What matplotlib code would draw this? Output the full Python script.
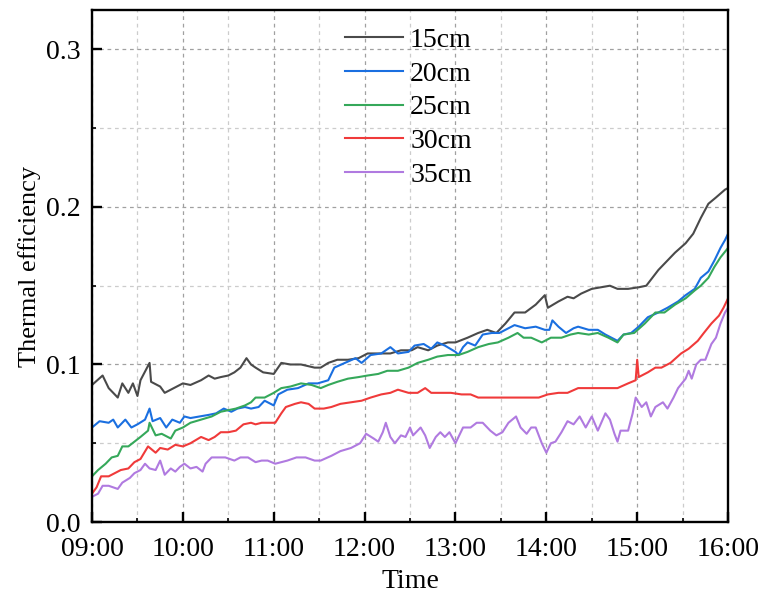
import matplotlib
matplotlib.use("Agg")
import matplotlib.pyplot as plt
from matplotlib.ticker import MultipleLocator, FuncFormatter
import numpy as np

plt.rcParams['font.family'] = ['Liberation Serif', 'DejaVu Serif']

# minutes after 09:00 and thermal efficiency
t15 = [0, 7, 11, 17, 20, 24, 27, 30, 32, 38, 39, 45, 48, 52, 60, 65, 72, 77, 81, 85,
       90, 94, 98, 102, 105, 108, 113, 120, 125, 131, 138, 147, 151, 156, 162, 169, 176,
       182, 191, 197, 204, 211, 215, 222, 228, 235, 240, 248, 255, 261, 267, 273, 279,
       286, 293, 296, 299, 301, 308, 314, 318, 323, 330, 336, 342, 347, 354, 361, 366,
       370, 374, 379, 385, 392, 397, 402, 407, 412, 418, 420]
e15 = [0.087, 0.093, 0.085, 0.079, 0.088, 0.082, 0.088, 0.080, 0.090, 0.101, 0.089, 0.086,
       0.082, 0.084, 0.088, 0.087, 0.090, 0.093, 0.091, 0.092, 0.093, 0.095, 0.098, 0.104,
       0.100, 0.098, 0.095, 0.094, 0.101, 0.100, 0.100, 0.098, 0.098, 0.101, 0.103, 0.103,
       0.104, 0.107, 0.107, 0.107, 0.109, 0.109, 0.111, 0.109, 0.112, 0.114, 0.114, 0.117,
       0.120, 0.122, 0.120, 0.126, 0.133, 0.133, 0.138, 0.141, 0.144, 0.136, 0.140, 0.143,
       0.142, 0.145, 0.148, 0.149, 0.150, 0.148, 0.148, 0.149, 0.150, 0.155, 0.160, 0.165,
       0.171, 0.177, 0.183, 0.193, 0.202, 0.206, 0.211, 0.212]

t20 = [0, 5, 11, 14, 17, 22, 26, 30, 35, 38, 40, 45, 49, 53, 58, 61, 65, 71, 77, 82, 87,
       92, 96, 101, 105, 110, 114, 120, 123, 129, 136, 143, 149, 156, 160, 167, 174, 178,
       184, 191, 197, 202, 209, 213, 219, 224, 228, 233, 240, 242, 245, 248, 253, 258, 264,
       269, 275, 279, 286, 293, 299, 302, 304, 308, 313, 318, 321, 328, 334, 339, 343, 347,
       351, 356, 361, 367, 374, 380, 387, 392, 398, 402, 407, 411, 415, 418, 420]
e20 = [0.060, 0.064, 0.063, 0.065, 0.060, 0.065, 0.060, 0.062, 0.065, 0.072, 0.064, 0.066,
       0.060, 0.065, 0.063, 0.067, 0.066, 0.067, 0.068, 0.069, 0.072, 0.070, 0.072, 0.073,
       0.072, 0.073, 0.077, 0.074, 0.081, 0.084, 0.085, 0.088, 0.088, 0.090, 0.098, 0.101,
       0.104, 0.101, 0.106, 0.107, 0.111, 0.107, 0.108, 0.112, 0.113, 0.110, 0.114, 0.112,
       0.108, 0.106, 0.111, 0.114, 0.112, 0.119, 0.120, 0.120, 0.123, 0.125, 0.123, 0.124,
       0.122, 0.122, 0.128, 0.124, 0.120, 0.123, 0.124, 0.122, 0.122, 0.119, 0.117, 0.115,
       0.119, 0.120, 0.124, 0.130, 0.133, 0.136, 0.140, 0.144, 0.148, 0.155, 0.159, 0.166,
       0.174, 0.179, 0.183]

t25 = [0, 4, 9, 13, 17, 20, 24, 28, 32, 37, 38, 42, 46, 52, 55, 60, 65, 72, 79, 85, 90,
       95, 101, 105, 108, 114, 120, 125, 131, 138, 145, 151, 156, 162, 169, 176, 182, 189,
       195, 202, 209, 215, 222, 228, 235, 242, 248, 255, 262, 268, 275, 281, 285, 290, 297,
       303, 310, 316, 321, 328, 334, 341, 347, 351, 358, 365, 372, 378, 385, 392, 398, 402,
       407, 411, 415, 420]
e25 = [0.029, 0.033, 0.037, 0.041, 0.042, 0.048, 0.048, 0.051, 0.054, 0.058, 0.063, 0.055,
       0.056, 0.053, 0.058, 0.060, 0.063, 0.065, 0.067, 0.070, 0.071, 0.072, 0.074, 0.076,
       0.079, 0.079, 0.082, 0.085, 0.086, 0.088, 0.087, 0.085, 0.087, 0.089, 0.091, 0.092,
       0.093, 0.094, 0.096, 0.096, 0.098, 0.101, 0.103, 0.105, 0.106, 0.106, 0.108, 0.111,
       0.113, 0.114, 0.117, 0.120, 0.117, 0.117, 0.114, 0.117, 0.117, 0.119, 0.120, 0.119,
       0.120, 0.117, 0.114, 0.119, 0.120, 0.126, 0.133, 0.133, 0.138, 0.142, 0.147, 0.150,
       0.155, 0.162, 0.168, 0.174]

t30 = [0, 3, 6, 11, 15, 19, 24, 28, 32, 37, 42, 45, 50, 55, 60, 65, 72, 77, 81, 85, 90,
       95, 100, 105, 108, 112, 116, 121, 125, 128, 134, 138, 143, 147, 153, 158, 164, 171,
       178, 184, 191, 197, 202, 209, 215, 220, 224, 230, 237, 244, 250, 255, 262, 268, 275,
       281, 288, 295, 301, 308, 314, 321, 328, 334, 341, 347, 354, 359, 360, 361, 367, 372,
       376, 382, 389, 394, 400, 404, 409, 414, 417, 420]
e30 = [0.018, 0.022, 0.029, 0.029, 0.031, 0.033, 0.034, 0.038, 0.040, 0.048, 0.044, 0.047,
       0.046, 0.049, 0.048, 0.050, 0.054, 0.052, 0.054, 0.057, 0.057, 0.058, 0.062, 0.063,
       0.062, 0.063, 0.063, 0.063, 0.069, 0.073, 0.075, 0.076, 0.075, 0.072, 0.072, 0.073,
       0.075, 0.076, 0.077, 0.079, 0.081, 0.082, 0.084, 0.082, 0.082, 0.085, 0.082, 0.082,
       0.082, 0.081, 0.081, 0.079, 0.079, 0.079, 0.079, 0.079, 0.079, 0.079, 0.081, 0.082,
       0.082, 0.085, 0.085, 0.085, 0.085, 0.085, 0.088, 0.090, 0.103, 0.092, 0.095, 0.098,
       0.098, 0.101, 0.107, 0.110, 0.115, 0.120, 0.126, 0.131, 0.136, 0.142]

t35 = [0, 4, 7, 11, 14, 17, 20, 25, 28, 32, 35, 38, 42, 45, 48, 52, 55, 58, 61, 65, 69,
       73, 75, 79, 82, 88, 94, 98, 103, 108, 112, 116, 121, 125, 129, 135, 141, 147, 151,
       158, 164, 171, 177, 181, 186, 189, 192, 194, 197, 200, 204, 207, 210, 212, 217, 220,
       223, 227, 230, 233, 236, 240, 245, 250, 254, 258, 263, 267, 271, 275, 280, 283, 287,
       290, 293, 297, 300, 303, 306, 310, 314, 318, 322, 326, 330, 334, 339, 342, 345, 347,
       349, 354, 357, 359, 363, 366, 369, 372, 377, 380, 384, 387, 392, 394, 396, 399, 402,
       405, 409, 412, 415, 418, 420]
e35 = [0.016, 0.018, 0.023, 0.023, 0.022, 0.021, 0.025, 0.028, 0.031, 0.033, 0.037, 0.034,
       0.033, 0.039, 0.030, 0.034, 0.032, 0.035, 0.037, 0.034, 0.035, 0.032, 0.037, 0.041,
       0.041, 0.041, 0.039, 0.041, 0.041, 0.038, 0.039, 0.039, 0.037, 0.038, 0.039, 0.041,
       0.041, 0.039, 0.039, 0.042, 0.045, 0.047, 0.050, 0.056, 0.053, 0.051, 0.057, 0.063,
       0.054, 0.050, 0.055, 0.054, 0.060, 0.055, 0.060, 0.055, 0.047, 0.054, 0.057, 0.054,
       0.057, 0.050, 0.060, 0.060, 0.063, 0.063, 0.058, 0.055, 0.057, 0.063, 0.067, 0.060,
       0.056, 0.060, 0.060, 0.050, 0.044, 0.050, 0.051, 0.057, 0.064, 0.062, 0.067, 0.060,
       0.067, 0.058, 0.069, 0.065, 0.056, 0.051, 0.058, 0.058, 0.069, 0.079, 0.073, 0.076,
       0.067, 0.073, 0.076, 0.072, 0.079, 0.085, 0.091, 0.096, 0.091, 0.100, 0.103, 0.103,
       0.113, 0.117, 0.126, 0.133, 0.136]

labels = ['15cm', '20cm', '25cm', '30cm', '35cm']
colors = ['#4a4a4a', '#1a6fe0', '#35a85a', '#f03a3a', '#b07ae0']
series = [(t15, e15), (t20, e20), (t25, e25), (t30, e30), (t35, e35)]

fig = plt.figure(figsize=(7.63, 5.97), dpi=100)
ax = fig.add_axes([0.1206, 0.1256, 0.8336, 0.8576])

for (t, e), lab, c in zip(series, labels, colors):
    hours = 9 + np.array(t) / 60.0
    ax.plot(hours, e, color=c, lw=1.5, label=lab)

ax.set_xlim(9, 16)
ax.set_ylim(0, 0.325)
ax.xaxis.set_major_locator(MultipleLocator(1))
ax.xaxis.set_minor_locator(MultipleLocator(0.5))
ax.xaxis.set_major_formatter(FuncFormatter(lambda v, p: '%02d:00' % int(round(v))))
ax.yaxis.set_major_locator(MultipleLocator(0.1))
ax.yaxis.set_minor_locator(MultipleLocator(0.05))
ax.yaxis.set_major_formatter(FuncFormatter(lambda v, p: '%.1f' % v))

ax.tick_params(which='major', direction='in', length=7, width=1.7, labelsize=20)
ax.tick_params(which='minor', direction='in', length=3, width=1.2)
ax.tick_params(axis='x', which='major', pad=11)
ax.tick_params(axis='y', which='major', pad=8)
for s in ax.spines.values():
    s.set_linewidth(1.7)

ax.grid(which='major', color='#a0a0a0', linestyle=(0, (3, 3)), linewidth=0.9)
ax.grid(which='minor', color='#cccccc', linestyle=(0, (3, 3)), linewidth=0.9)
ax.set_axisbelow(True)

ax.set_xlabel('Time', fontsize=20, labelpad=5)
ax.set_ylabel('Thermal efficiency', fontsize=19, labelpad=4)

ax.legend(loc='upper left', bbox_to_anchor=(0.38, 0.988), frameon=False, fontsize=20,
          handlelength=2.1, handletextpad=0.25, labelspacing=0.3, borderaxespad=0)

fig.savefig('out.png', dpi=100)
